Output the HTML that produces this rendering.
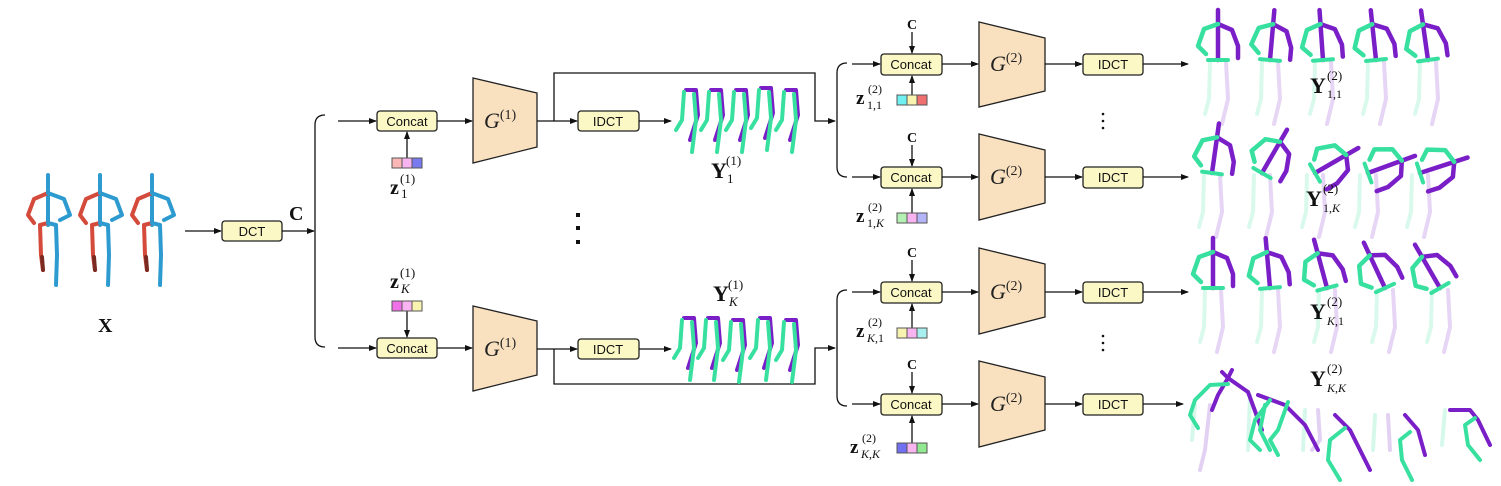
<!DOCTYPE html>
<html><head><meta charset="utf-8"><style>
html,body{margin:0;padding:0;background:#fff}
svg{display:block}
.bx{fill:#fbf8c6;stroke:#222;stroke-width:1.3}
.bt{font-family:"Liberation Sans",sans-serif;font-size:13px;fill:#111}
.ln{stroke:#111;stroke-width:1.3;fill:none}
.gt{font-family:"Liberation Serif",serif;font-style:italic;font-size:22px;fill:#222}
.m{font-family:"Liberation Serif",serif;fill:#111}
.tr{fill:#f9e1c0;stroke:#222;stroke-width:1.3}
.sk path{fill:none;stroke-width:4;stroke-linecap:round;stroke-linejoin:round}
.g{stroke:#38e0a0}.p{stroke:#7a1fc8}.r{stroke:#d44b3c}.b{stroke:#2e9bd0}.dr{stroke:#7a2a20}.dg{stroke:#238a60}
</style></head><body>
<svg width="1501" height="486" viewBox="0 0 1501 486" xmlns="http://www.w3.org/2000/svg">
<defs>
<marker id="ar" markerWidth="8" markerHeight="6" refX="7" refY="3" orient="auto" markerUnits="userSpaceOnUse"><path d="M0,0 L8,3 L0,6z" fill="#111"/></marker>
<g id="inp" class="sk">
<path class="b" d="M0,0 L0,50"/>
<path class="r" d="M0,18 L-14,24 L-20,40 L-14,48"/>
<path class="b" d="M0,18 L16,24 L22,40 L12,45"/>
<path class="r" d="M0,48 L-8,50 L-7,80 L-5,95"/>
<path class="dr" d="M-6,82 L-5,95"/>
<path class="b" d="M0,48 L8,50 L9,80 L8,110"/>
</g>
<g id="up" class="sk">
<path class="p" d="M0,-14 L0,36" style="stroke-width:4.5"/>
<path class="p" d="M0,0 L14,6 L20,22 L20,34" style="stroke-width:4.5"/>
<path class="g" d="M0,0 L-14,5 L-20,22 L-12,30" style="stroke-width:4.5"/>
<path class="g" d="M-10,36 L10,36"/>
</g>
<g id="lg" class="sk" opacity="0.18">
<path class="g" d="M-8,38 L-9,75 L-13,90"/>
<path class="p" d="M8,38 L10,75 L4,100"/>
</g>
<g id="y1" class="sk">
<path class="p" d="M-4,0 L6,0 L8,25 L0,50"/>
<path class="g" d="M-6,2 L-8,30 L-14,40"/>
<path class="g" d="M4,4 L6,30 L2,62"/>
</g>
</defs>

<use href="#inp" x="48" y="175"/><use href="#inp" x="100" y="175"/><use href="#inp" x="152" y="175"/>
<text class="m" x="98" y="332" font-size="20" font-weight="bold">X</text>

<line class="ln" x1="185" y1="231" x2="221" y2="231" marker-end="url(#ar)"/>
<rect class="bx" x="222" y="221" width="60" height="20" rx="3"/><text class="bt" x="252" y="236" text-anchor="middle">DCT</text>
<line class="ln" x1="282" y1="231" x2="314" y2="231" marker-end="url(#ar)"/>
<text class="m" x="289" y="220" font-size="20" font-weight="bold">C</text>

<path class="ln" d="M325,115 Q315,115 315,125 L315,337 Q315,347 325,347"/>
<line class="ln" x1="338" y1="121" x2="376" y2="121" marker-end="url(#ar)"/>
<line class="ln" x1="338" y1="348" x2="376" y2="348" marker-end="url(#ar)"/>

<rect class="bx" x="377" y="111" width="60" height="20" rx="3"/><text class="bt" x="407" y="126" text-anchor="middle">Concat</text>
<rect class="bx" x="377" y="338" width="60" height="20" rx="3"/><text class="bt" x="407" y="353" text-anchor="middle">Concat</text>

<line class="ln" x1="407" y1="158" x2="407" y2="132" marker-end="url(#ar)"/>
<rect x="392" y="158" width="10" height="10" fill="#fbb6b6" stroke="#555"/><rect x="402" y="158" width="10" height="10" fill="#f8b4f0" stroke="#555"/><rect x="412" y="158" width="10" height="10" fill="#7a7af0" stroke="#555"/>
<text class="m" x="390" y="194" font-size="20" font-weight="bold">z</text>
<text class="m" x="401" y="198" font-size="13">1</text>
<text class="m" x="400" y="183" font-size="13" fill="#2a5aa0">(1)</text>

<line class="ln" x1="407" y1="311" x2="407" y2="337" marker-end="url(#ar)"/>
<rect x="392" y="301" width="10" height="10" fill="#f070e8" stroke="#555"/><rect x="402" y="301" width="10" height="10" fill="#f8b4f0" stroke="#555"/><rect x="412" y="301" width="10" height="10" fill="#f8f4b0" stroke="#555"/>
<text class="m" x="390" y="288" font-size="20" font-weight="bold">z</text>
<text class="m" x="401" y="293" font-size="13" font-style="italic">K</text>
<text class="m" x="400" y="277" font-size="13">(1)</text>

<line class="ln" x1="437" y1="121" x2="472" y2="121" marker-end="url(#ar)"/>
<line class="ln" x1="437" y1="348" x2="472" y2="348" marker-end="url(#ar)"/>
<polygon class="tr" points="473,78 537,93 537,147 473,163"/>
<polygon class="tr" points="473,306 537,321 537,375 473,391"/>
<text class="gt" x="484" y="128">G<tspan font-style="normal" font-size="14" dy="-9">(1)</tspan></text>
<text class="gt" x="484" y="356">G<tspan font-style="normal" font-size="14" dy="-9">(1)</tspan></text>

<path class="ln" stroke-width="2" d="M537,121 L554,121"/>
<path class="ln" d="M554,121 L554,73 L815,73 L815,121 L835,121" marker-end="url(#ar)"/>
<line class="ln" x1="554" y1="121" x2="577" y2="121" marker-end="url(#ar)"/>
<rect class="bx" x="578" y="111" width="61" height="20" rx="3"/><text class="bt" x="608" y="126" text-anchor="middle">IDCT</text>
<line class="ln" x1="639" y1="121" x2="671" y2="121" marker-end="url(#ar)"/>
<use href="#y1" x="690" y="90"/><use href="#y1" x="715" y="90"/><use href="#y1" x="740" y="90"/><use href="#y1" x="765" y="88"/><use href="#y1" x="790" y="90"/>
<text class="m" x="711" y="178" font-size="22" font-weight="bold">Y</text>
<text class="m" x="727" y="183" font-size="13">1</text>
<text class="m" x="726" y="165" font-size="13">(1)</text>

<rect x="576" y="213" width="4" height="4" fill="#111"/><rect x="576" y="226" width="4" height="4" fill="#111"/><rect x="576" y="240" width="4" height="4" fill="#111"/>

<path class="ln" stroke-width="2" d="M537,349 L554,349"/>
<path class="ln" d="M554,349 L554,384 L815,384 L815,348 L835,348" marker-end="url(#ar)"/>
<line class="ln" x1="554" y1="349" x2="577" y2="349" marker-end="url(#ar)"/>
<rect class="bx" x="578" y="339" width="61" height="20" rx="3"/><text class="bt" x="608" y="354" text-anchor="middle">IDCT</text>
<line class="ln" x1="639" y1="349" x2="671" y2="349" marker-end="url(#ar)"/>
<use href="#y1" x="688" y="318"/><use href="#y1" x="712" y="318"/><use href="#y1" x="737" y="320"/><use href="#y1" x="764" y="318"/><use href="#y1" x="790" y="320"/>
<text class="m" x="713" y="301" font-size="22" font-weight="bold">Y</text>
<text class="m" x="729" y="306" font-size="13" font-style="italic">K</text>
<text class="m" x="728" y="289" font-size="13">(1)</text>

<path class="ln" d="M847,63 Q837,63 837,73 L837,167 Q837,177 847,177"/>
<path class="ln" d="M847,290 Q837,290 837,300 L837,396 Q837,406 847,406"/>

<g>
<text class="m" x="907" y="29" font-size="14" font-weight="bold">C</text>
<line class="ln" x1="912" y1="32" x2="912" y2="53" marker-end="url(#ar)"/>
<line class="ln" x1="852" y1="64" x2="880" y2="64" marker-end="url(#ar)"/>
<rect class="bx" x="881" y="54" width="61" height="21" rx="3"/><text class="bt" x="911" y="69" text-anchor="middle">Concat</text>
<line class="ln" x1="912" y1="95" x2="912" y2="76" marker-end="url(#ar)"/>
<rect x="897" y="95" width="10" height="10" fill="#70f0f0" stroke="#555"/><rect x="907" y="95" width="10" height="10" fill="#f8f4b0" stroke="#555"/><rect x="917" y="95" width="10" height="10" fill="#f07070" stroke="#555"/>
<text class="m" x="856" y="104" font-size="19" font-weight="bold">z</text>
<text class="m" x="867" y="109" font-size="12">1,1</text>
<text class="m" x="868" y="93" font-size="12">(2)</text>
<line class="ln" x1="942" y1="64" x2="978" y2="64" marker-end="url(#ar)"/>
<polygon class="tr" points="979,22 1045,38 1045,91 979,107"/>
<text class="gt" x="990" y="71">G<tspan font-style="normal" font-size="14" dy="-9">(2)</tspan></text>
<line class="ln" x1="1045" y1="64" x2="1082" y2="64" marker-end="url(#ar)"/>
<rect class="bx" x="1083" y="54" width="60" height="21" rx="3"/><text class="bt" x="1113" y="69" text-anchor="middle">IDCT</text>
<line class="ln" x1="1143" y1="64" x2="1188" y2="64" marker-end="url(#ar)"/>
</g>
<g transform="translate(0,113)">
<text class="m" x="907" y="29" font-size="14" font-weight="bold">C</text>
<line class="ln" x1="912" y1="32" x2="912" y2="53" marker-end="url(#ar)"/>
<line class="ln" x1="852" y1="64" x2="880" y2="64" marker-end="url(#ar)"/>
<rect class="bx" x="881" y="54" width="61" height="21" rx="3"/><text class="bt" x="911" y="69" text-anchor="middle">Concat</text>
<line class="ln" x1="912" y1="100" x2="912" y2="76" marker-end="url(#ar)"/>
<rect x="897" y="100" width="10" height="10" fill="#b4f0b4" stroke="#555"/><rect x="907" y="100" width="10" height="10" fill="#f8b4f0" stroke="#555"/><rect x="917" y="100" width="10" height="10" fill="#b4b4f8" stroke="#555"/>
<text class="m" x="856" y="109" font-size="19" font-weight="bold">z</text>
<text class="m" x="867" y="114" font-size="12">1,<tspan font-style="italic">K</tspan></text>
<text class="m" x="868" y="98" font-size="12">(2)</text>
<line class="ln" x1="942" y1="64" x2="978" y2="64" marker-end="url(#ar)"/>
<polygon class="tr" points="979,21 1045,37 1045,90 979,107"/>
<text class="gt" x="990" y="71">G<tspan font-style="normal" font-size="14" dy="-9">(2)</tspan></text>
<line class="ln" x1="1045" y1="64" x2="1082" y2="64" marker-end="url(#ar)"/>
<rect class="bx" x="1083" y="54" width="60" height="21" rx="3"/><text class="bt" x="1113" y="69" text-anchor="middle">IDCT</text>
<line class="ln" x1="1143" y1="64" x2="1188" y2="64" marker-end="url(#ar)"/>
</g>
<g transform="translate(0,228)">
<text class="m" x="907" y="29" font-size="14" font-weight="bold">C</text>
<line class="ln" x1="912" y1="32" x2="912" y2="53" marker-end="url(#ar)"/>
<line class="ln" x1="852" y1="64" x2="880" y2="64" marker-end="url(#ar)"/>
<rect class="bx" x="881" y="54" width="61" height="21" rx="3"/><text class="bt" x="911" y="69" text-anchor="middle">Concat</text>
<line class="ln" x1="912" y1="100" x2="912" y2="76" marker-end="url(#ar)"/>
<rect x="897" y="100" width="10" height="10" fill="#f8f4b0" stroke="#555"/><rect x="907" y="100" width="10" height="10" fill="#f8b4f0" stroke="#555"/><rect x="917" y="100" width="10" height="10" fill="#a8f0f0" stroke="#555"/>
<text class="m" x="856" y="109" font-size="19" font-weight="bold">z</text>
<text class="m" x="867" y="114" font-size="12"><tspan font-style="italic">K</tspan>,1</text>
<text class="m" x="868" y="98" font-size="12">(2)</text>
<line class="ln" x1="942" y1="64" x2="978" y2="64" marker-end="url(#ar)"/>
<polygon class="tr" points="979,20 1045,36 1045,89 979,106"/>
<text class="gt" x="990" y="71">G<tspan font-style="normal" font-size="14" dy="-9">(2)</tspan></text>
<line class="ln" x1="1045" y1="64" x2="1082" y2="64" marker-end="url(#ar)"/>
<rect class="bx" x="1083" y="54" width="60" height="21" rx="3"/><text class="bt" x="1113" y="69" text-anchor="middle">IDCT</text>
<line class="ln" x1="1143" y1="64" x2="1188" y2="64" marker-end="url(#ar)"/>
</g>
<g transform="translate(0,340)">
<text class="m" x="907" y="29" font-size="14" font-weight="bold">C</text>
<line class="ln" x1="912" y1="32" x2="912" y2="53" marker-end="url(#ar)"/>
<line class="ln" x1="852" y1="64" x2="880" y2="64" marker-end="url(#ar)"/>
<rect class="bx" x="881" y="54" width="61" height="21" rx="3"/><text class="bt" x="911" y="69" text-anchor="middle">Concat</text>
<line class="ln" x1="912" y1="103" x2="912" y2="76" marker-end="url(#ar)"/>
<rect x="897" y="103" width="10" height="10" fill="#7070f0" stroke="#555"/><rect x="907" y="103" width="10" height="10" fill="#f8b4f0" stroke="#555"/><rect x="917" y="103" width="10" height="10" fill="#90e890" stroke="#555"/>
<text class="m" x="850" y="113" font-size="19" font-weight="bold">z</text>
<text class="m" x="861" y="118" font-size="12"><tspan font-style="italic">K</tspan>,<tspan font-style="italic">K</tspan></text>
<text class="m" x="862" y="102" font-size="12">(2)</text>
<line class="ln" x1="942" y1="64" x2="978" y2="64" marker-end="url(#ar)"/>
<polygon class="tr" points="979,21 1045,37 1045,90 979,107"/>
<text class="gt" x="990" y="71">G<tspan font-style="normal" font-size="14" dy="-9">(2)</tspan></text>
<line class="ln" x1="1045" y1="64" x2="1082" y2="64" marker-end="url(#ar)"/>
<rect class="bx" x="1083" y="54" width="60" height="21" rx="3"/><text class="bt" x="1113" y="69" text-anchor="middle">IDCT</text>
<line class="ln" x1="1143" y1="64" x2="1183" y2="64" marker-end="url(#ar)"/>
</g>
<g fill="#111"><circle cx="1103" cy="114" r="1.3"/><circle cx="1103" cy="121" r="1.3"/><circle cx="1103" cy="128" r="1.3"/>
<circle cx="1103" cy="336" r="1.3"/><circle cx="1103" cy="343" r="1.3"/><circle cx="1103" cy="350" r="1.3"/></g>

<g>
<use href="#lg" x="1218" y="24"/><use href="#up" x="1218" y="24"/>
<use href="#lg" x="1270" y="24"/><use href="#up" x="1270" y="24" transform="rotate(5 1270 60)"/>
<use href="#lg" x="1323" y="24"/><use href="#up" x="1323" y="24" transform="rotate(-4 1323 60)"/>
<use href="#lg" x="1376" y="24"/><use href="#up" x="1376" y="24" transform="rotate(-6 1376 60)"/>
<use href="#lg" x="1428" y="24"/><use href="#up" x="1428" y="24" transform="rotate(-8 1428 60)"/>
</g>
<text class="m" x="1310" y="93" font-size="22" font-weight="bold">Y</text>
<text class="m" x="1327" y="98" font-size="12">1,1</text>
<text class="m" x="1327" y="80" font-size="13">(2)</text>
<g>
<use href="#lg" x="1212" y="137"/><use href="#up" x="1212" y="137" transform="rotate(8 1212 173)"/>
<use href="#lg" x="1262" y="137"/><use href="#up" x="1262" y="137" transform="rotate(30 1262 173)"/>
<use href="#lg" x="1315" y="137"/><use href="#up" x="1315" y="137" transform="rotate(60 1315 173)"/>
<use href="#lg" x="1368" y="137"/><use href="#up" x="1368" y="137" transform="rotate(70 1368 173)"/>
<use href="#lg" x="1420" y="137"/><use href="#up" x="1420" y="137" transform="rotate(72 1420 173)"/>
</g>
<text class="m" x="1306" y="206" font-size="22" font-weight="bold">Y</text>
<text class="m" x="1323" y="212" font-size="12">1,<tspan font-style="italic">K</tspan></text>
<text class="m" x="1323" y="193" font-size="13">(2)</text>
<g>
<use href="#lg" x="1213" y="252"/><use href="#up" x="1213" y="252"/>
<use href="#lg" x="1270" y="252"/><use href="#up" x="1270" y="252" transform="rotate(-5 1270 288)"/>
<use href="#lg" x="1327" y="252"/><use href="#up" x="1327" y="252" transform="rotate(-15 1327 288)"/>
<use href="#lg" x="1385" y="252"/><use href="#up" x="1385" y="252" transform="rotate(-25 1385 288)"/>
<use href="#lg" x="1440" y="252"/><use href="#up" x="1440" y="252" transform="rotate(-30 1440 288)"/>
</g>
<text class="m" x="1310" y="319" font-size="22" font-weight="bold">Y</text>
<text class="m" x="1327" y="325" font-size="12"><tspan font-style="italic">K</tspan>,1</text>
<text class="m" x="1327" y="306" font-size="13">(2)</text>
<text class="m" x="1310" y="386" font-size="22" font-weight="bold">Y</text>
<text class="m" x="1327" y="392" font-size="12"><tspan font-style="italic">K</tspan>,<tspan font-style="italic">K</tspan></text>
<text class="m" x="1327" y="373" font-size="13">(2)</text>
<g class="sk">
<g opacity="0.2"><path class="g" d="M1195,405 L1192,440"/><path class="p" d="M1210,405 L1205,450 L1200,470"/>
<path class="g" d="M1250,395 L1248,450"/><path class="g" d="M1305,410 L1303,450"/><path class="p" d="M1318,410 L1320,440 L1312,450"/>
<path class="g" d="M1375,415 L1373,450"/><path class="p" d="M1388,415 L1390,450"/><path class="g" d="M1445,410 L1442,445"/></g>
<path class="p" d="M1228,378 L1218,395 L1212,410"/><path class="p" d="M1228,378 L1248,392 L1262,430"/><path class="p" d="M1222,372 L1228,378 L1232,370"/>
<path class="g" d="M1228,384 L1210,385 L1195,400 L1190,415 L1198,428"/>
<path class="p" d="M1258,395 L1285,405 L1305,425 L1318,450"/>
<path class="g" d="M1270,400 L1255,420 L1250,440 L1260,450"/><path class="g" d="M1265,405 L1260,430 L1270,450"/>
<path class="g" d="M1288,402 L1278,430 L1270,440 L1278,455"/>
<path class="p" d="M1335,415 L1350,430 L1360,450 L1370,470"/>
<path class="g" d="M1345,428 L1330,440 L1328,460 L1340,480"/>
<path class="p" d="M1405,415 L1418,430 L1425,455"/>
<path class="g" d="M1410,432 L1400,440 L1402,460 L1412,480"/>
<path class="p" d="M1450,410 L1470,410 L1478,420 L1490,445"/>
<path class="g" d="M1475,418 L1465,425 L1468,445 L1480,460"/>
</g>
</svg>
</body></html>
